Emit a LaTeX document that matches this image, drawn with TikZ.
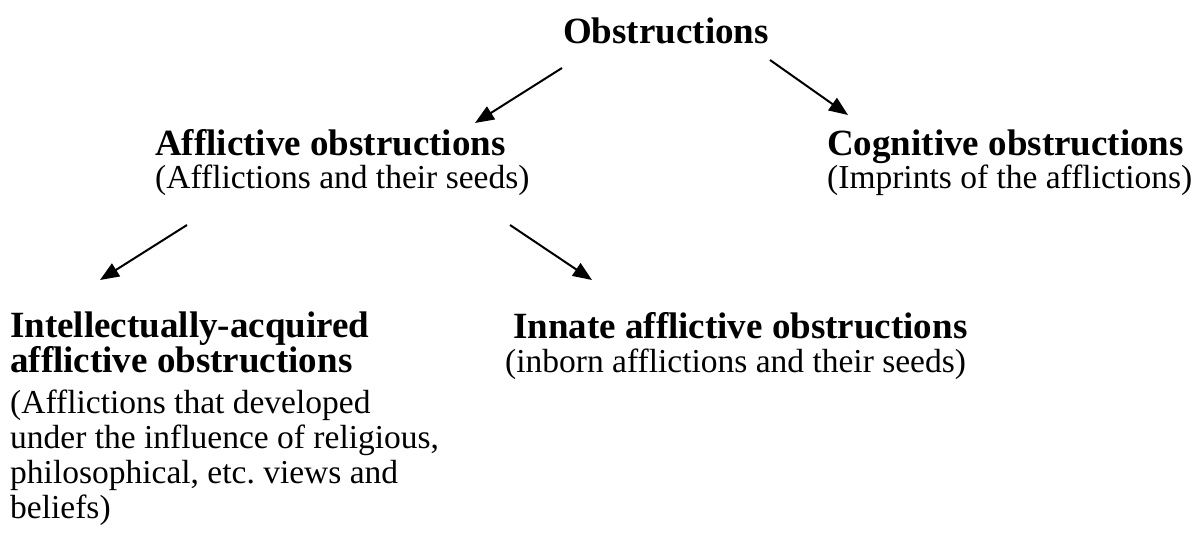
\documentclass[tikz,border=0pt]{standalone}
\usepackage{fontspec}
\setmainfont{Liberation Serif}
\usetikzlibrary{arrows.meta}
\tikzset{
  head/.style={font=\fontsize{37}{37}\selectfont\bfseries, inner sep=0pt, anchor=base west},
  note/.style={font=\fontsize{33.5}{35}\selectfont, inner sep=0pt, anchor=base west},
  arr/.style={line width=2pt, -{Triangle[length=19pt,width=15pt]}}
}
\begin{document}
\begin{tikzpicture}[x=1pt,y=1pt]
  \useasboundingbox (0,0) rectangle (1197,-533);

  % top level
  \node[head] (obs) at (563,-43) {Obstructions};

  % second level
  \node[head] (aff)  at (155,-155) {Afflictive obstructions};
  \node[note] (affn) at (155,-188) {(Afflictions and their seeds)};
  \node[head] (cog)  at (827,-155) {Cognitive obstructions};
  \node[note] (cogn) at (827,-188) {(Imprints of the afflictions)};

  % third level, left
  \node[head] (int1) at (10,-337) {Intellectually-acquired};
  \node[head] (int2) at (10,-372) {afflictive obstructions};
  \node[note] (intn1) at (10,-413) {(Afflictions that developed};
  \node[note] (intn2) at (10,-448) {under the influence of religious,};
  \node[note] (intn3) at (10,-483) {philosophical, etc.\ views and};
  \node[note] (intn4) at (10,-518) {beliefs)};

  % third level, right
  \node[head] (inn)  at (513,-338) {Innate afflictive obstructions};
  \node[note] (innn) at (505,-372) {(inborn afflictions and their seeds)};

  % arrow end points
  \coordinate (a1s) at (562,-68);
  \coordinate (a1e) at (475,-123);
  \coordinate (a2s) at (770,-60);
  \coordinate (a2e) at (848,-115);
  \coordinate (a3s) at (187,-225);
  \coordinate (a3e) at (100,-280);
  \coordinate (a4s) at (510,-225);
  \coordinate (a4e) at (592,-280);

  \draw[arr] (a1s) -- (a1e);
  \draw[arr] (a2s) -- (a2e);
  \draw[arr] (a3s) -- (a3e);
  \draw[arr] (a4s) -- (a4e);
\end{tikzpicture}
\end{document}
